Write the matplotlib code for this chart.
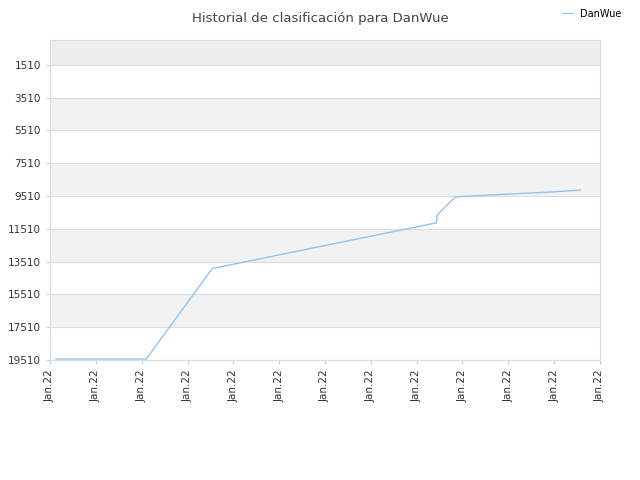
import matplotlib
matplotlib.use("Agg")
import matplotlib.pyplot as plt

x = [0.13, 2.1, 3.54, 8.43, 8.45, 8.84, 9.17, 10.04, 10.92, 11.57]
y = [19450, 19450, 13934, 11146, 10660, 9570, 9510, 9390, 9270, 9150]
yticks = [1510, 3510, 5510, 7510, 9510, 11510, 13510, 15510, 17510, 19510]
xlabels = ["Jan.22"] * 13

fig = plt.figure(figsize=(6.4, 4.8), dpi=100)
ax = fig.add_axes([50/640, 120/480, 550/640, 320/480])
ax.set_xlim(0, 12)
ax.set_ylim(19510, 0)
bands = [0] + yticks
for i in range(len(bands) - 1):
    if i % 2 == 0:
        ax.axhspan(bands[i], bands[i+1], color="#eeeeee" if i == 0 else "#f2f2f2", zorder=0, lw=0)
for t in yticks:
    ax.axhline(t, color="#dddddd", lw=0.8, zorder=1)
ax.plot(x, y, color="#90c4f5", lw=1, zorder=3, label="DanWue")
ax.set_yticks(yticks)
ax.set_yticklabels([str(t) for t in yticks], fontsize=7.5, color="#333333")
ax.set_xticks(range(13))
ax.set_xticklabels(xlabels, rotation=90, fontsize=7.5, color="#333333")
for s in ax.spines.values():
    s.set_color("#dddddd")
ax.tick_params(length=3, color="#cccccc")
fig.text(0.5, 0.975, "Historial de clasificación para DanWue", ha="center", va="top", fontsize=9.5, color="#444444")
fig.legend(loc="upper right", bbox_to_anchor=(0.985, 1.0), frameon=False, fontsize=7, handlelength=1.0)
fig.savefig("out.png", dpi=100)
